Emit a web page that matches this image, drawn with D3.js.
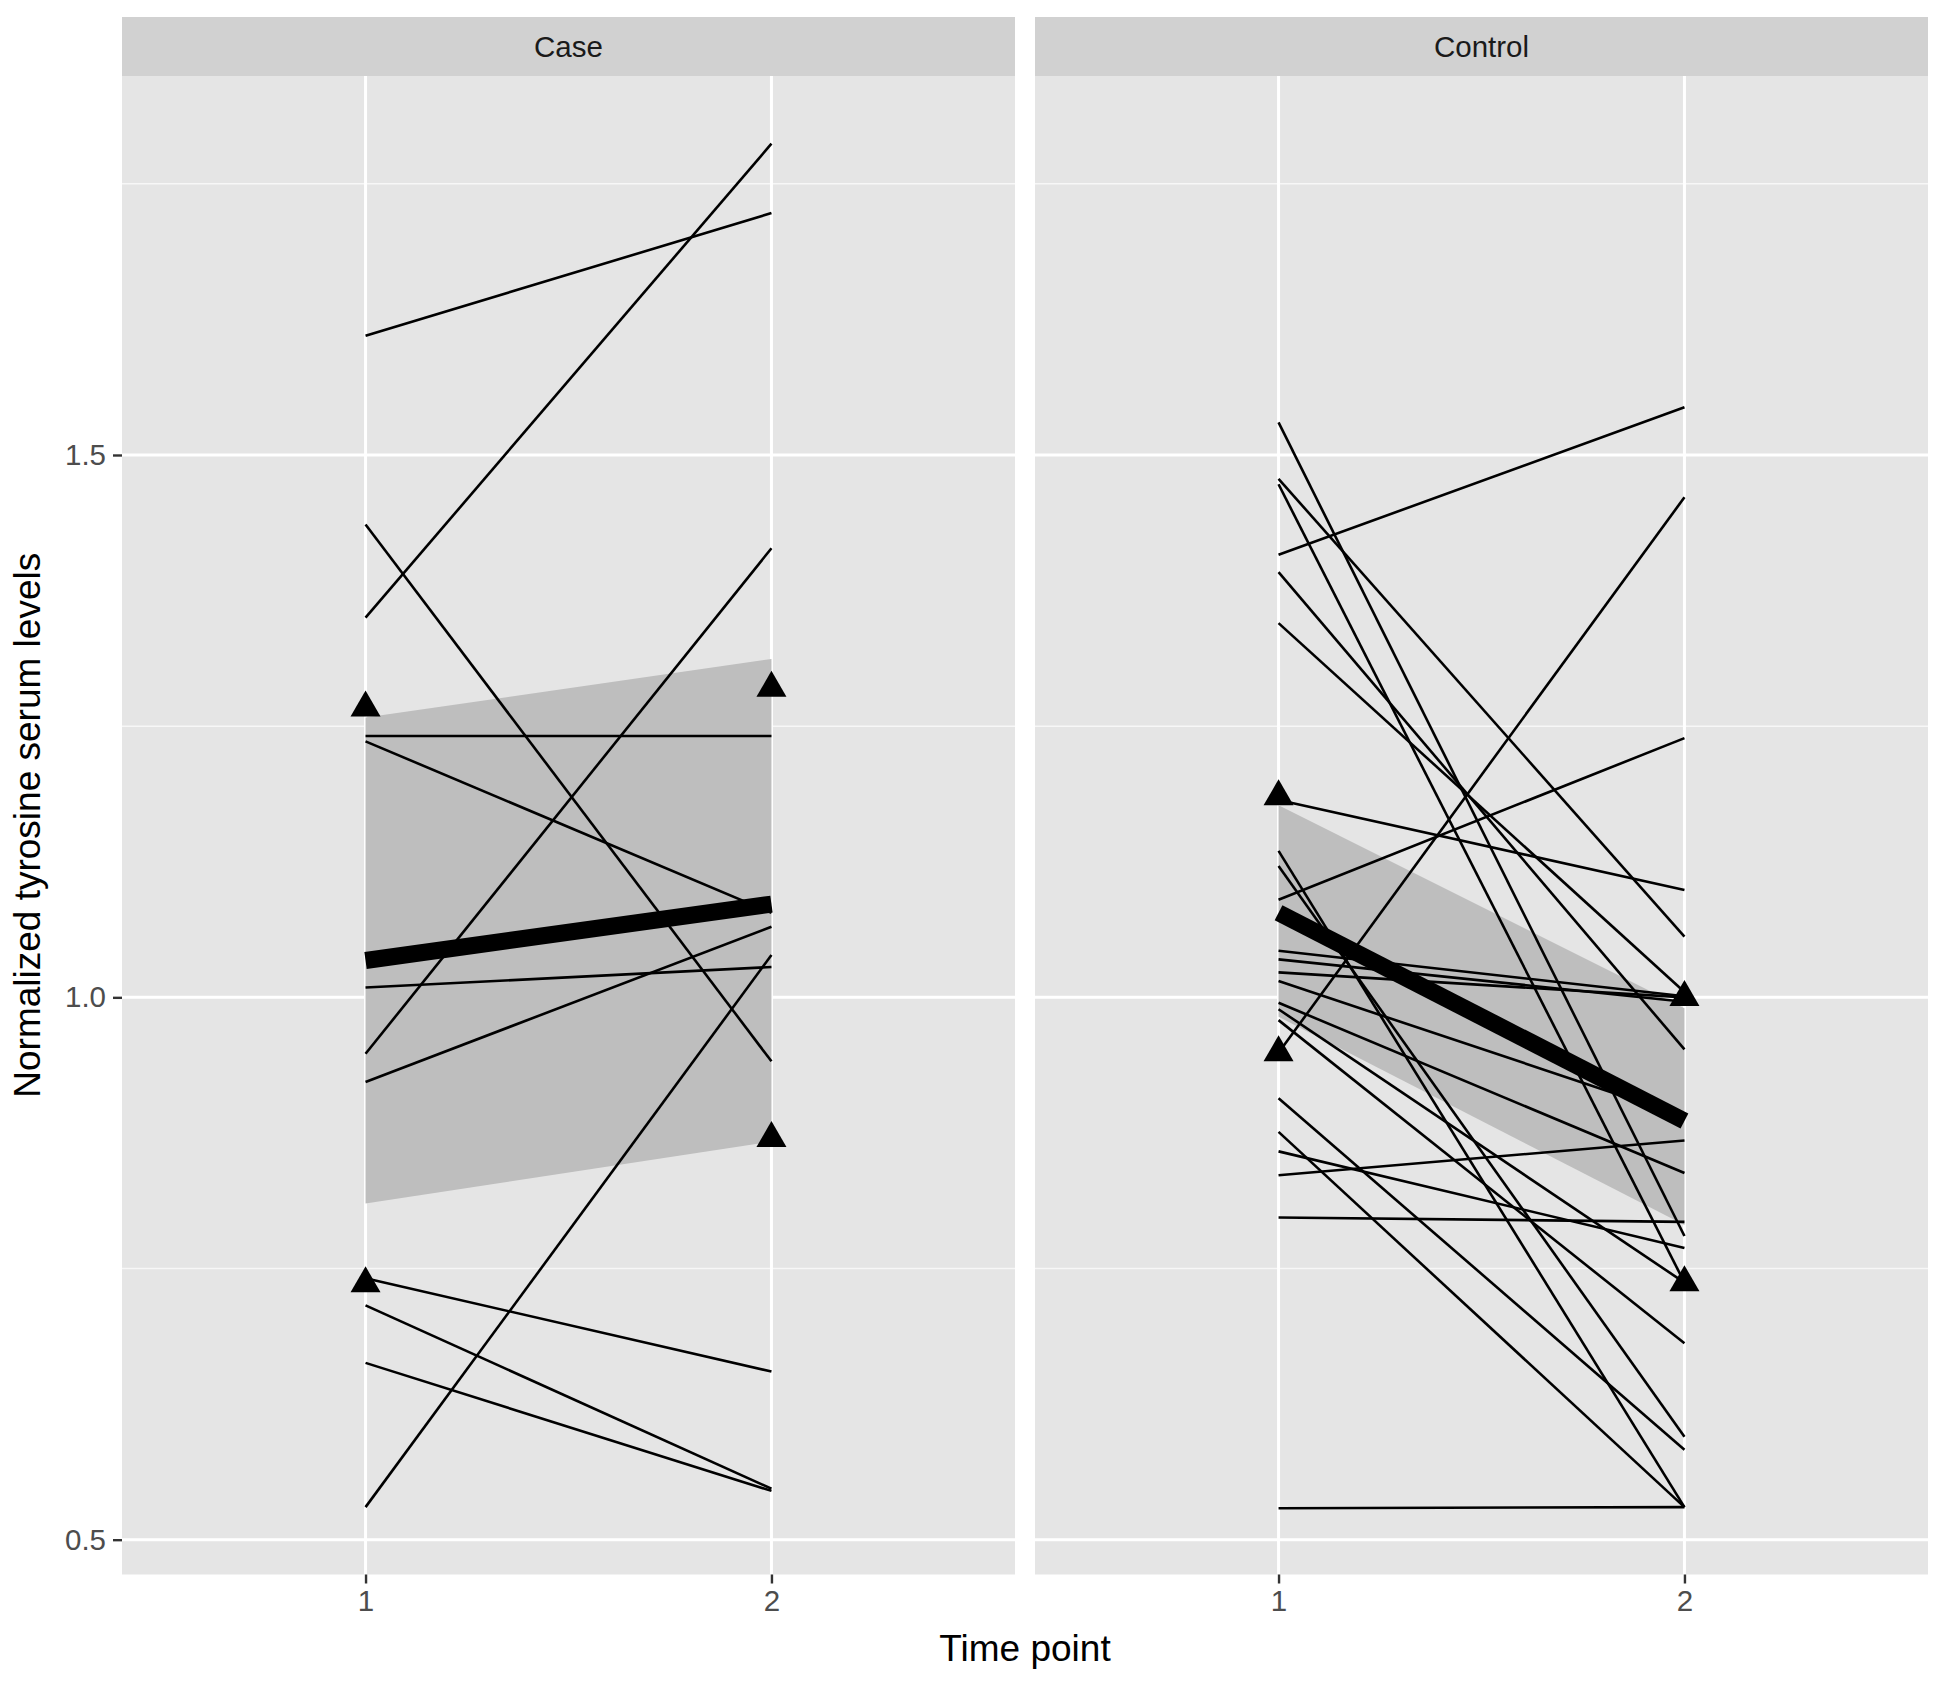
<!DOCTYPE html>
<html>
<head>
<meta charset="utf-8">
<script src="https://cdn.jsdelivr.net/npm/d3@7"></script>
<style>
  body { margin: 0; background: #ffffff; }
  text { font-family: "Liberation Sans", Arial, sans-serif; }
</style>
</head>
<body>
<svg></svg>
<script>
// time points on the x axis
const timePoints = [1, 2];
const panelNames = ["Case", "Control"];

// Case: one subject per index, value at time 1 and time 2
const caseT1 = [1.610, 1.350, 1.436, 1.241, 1.236, 0.948, 0.922, 1.009, 0.530, 0.741, 0.716, 0.663];
const caseT2 = [1.723, 1.787, 0.941, 1.241, 1.078, 1.414, 1.065, 1.028, 1.039, 0.655, 0.547, 0.545];

// Control
const controlT1 = [1.530, 1.478, 1.473, 1.408, 1.392, 1.345, 1.182, 1.135, 1.121, 1.090, 1.043, 1.035,
                   1.023, 1.015, 0.995, 0.989, 0.979, 0.949, 0.907, 0.876, 0.858, 0.836, 0.797, 0.529];
const controlT2 = [0.780, 1.056, 0.737, 1.544, 0.952, 1.005, 1.099, 0.530, 0.595, 1.239, 1.001, 0.996,
                   1.000, 0.890, 0.838, 0.737, 0.681, 1.461, 0.583, 0.530, 0.769, 0.868, 0.793, 0.530];

// group trend (thick line) and shaded band
const caseMean = [1.034, 1.086];
const caseBandLow = [0.810, 0.867];
const caseBandHigh = [1.258, 1.312];
const controlMean = [1.078, 0.886];
const controlBandLow = [0.982, 0.790];
const controlBandHigh = [1.177, 0.990];

// triangle markers
const caseTriUpper = [1.267, 1.285];
const caseTriLower = [0.736, 0.870];
const controlTriUpper = [1.185, 1.000];
const controlTriLower = [0.949, 0.737];

const yMajor = [0.5, 1.0, 1.5];
const yMinor = [0.75, 1.25, 1.75];

function buildPanel(name, t1, t2, mean, low, high, triUp, triLow) {
    return {
        name: name,
        subjects: t1.map((v, i) => [v, t2[i]]),
        mean: mean,
        band: timePoints.map((t, i) => ({t: t, lo: low[i], hi: high[i]})),
        triangles: timePoints.map((t, i) => [t, triUp[i]]).concat(timePoints.map((t, i) => [t, triLow[i]]))
    };
}

const panels = [
    buildPanel(panelNames[0], caseT1, caseT2, caseMean, caseBandLow, caseBandHigh, caseTriUpper, caseTriLower),
    buildPanel(panelNames[1], controlT1, controlT2, controlMean, controlBandLow, controlBandHigh, controlTriUpper, controlTriLower)
];

let width = 1947;
let height = 1681;

let svg = d3.select("svg")
    .attr("width", width)
    .attr("height", height);

let panelTop = 76;
let panelBottom = 1574.5;
let stripTop = 17;
let panelX = [[122, 1015], [1035, 1928]];

let y = d3.scaleLinear()
    .domain([0.4679, 1.8494])
    .range([panelBottom, panelTop]);

// y axis (left of first panel)
let yAxis = svg.append("g")
    .attr("transform", "translate(" + panelX[0][0] + ",0)")
    .call(d3.axisLeft(y).tickValues(yMajor).tickFormat(d3.format(".1f")).tickSize(9).tickPadding(7));
yAxis.select(".domain").remove();
yAxis.selectAll(".tick line").attr("stroke", "#333333").attr("stroke-width", 2.4);
yAxis.selectAll(".tick text")
    .attr("fill", "#4d4d4d")
    .attr("font-size", "29.5px")
    .attr("font-family", "Liberation Sans, Arial, sans-serif");

panels.forEach(function(p, k) {
    let x = d3.scaleLinear()
        .domain([0.4, 2.6])
        .range(panelX[k]);
    let pw = panelX[k][1] - panelX[k][0];

    let g = svg.append("g");

    // strip
    g.append("rect")
        .attr("x", panelX[k][0])
        .attr("y", stripTop)
        .attr("width", pw)
        .attr("height", panelTop - stripTop)
        .attr("fill", "#d1d1d1");
    g.append("text")
        .attr("x", (panelX[k][0] + panelX[k][1]) / 2)
        .attr("y", (stripTop + panelTop) / 2)
        .attr("dy", "0.35em")
        .attr("text-anchor", "middle")
        .attr("font-size", "29.5px")
        .attr("fill", "#1a1a1a")
        .text(p.name);

    // panel background
    g.append("rect")
        .attr("x", panelX[k][0])
        .attr("y", panelTop)
        .attr("width", pw)
        .attr("height", panelBottom - panelTop)
        .attr("fill", "#e5e5e5");

    // grid
    g.selectAll(".minor")
        .data(yMinor)
        .join("line")
        .attr("x1", panelX[k][0])
        .attr("x2", panelX[k][1])
        .attr("y1", d => y(d))
        .attr("y2", d => y(d))
        .attr("stroke", "#f7f7f7")
        .attr("stroke-width", 1.5);
    g.selectAll(".major")
        .data(yMajor)
        .join("line")
        .attr("x1", panelX[k][0])
        .attr("x2", panelX[k][1])
        .attr("y1", d => y(d))
        .attr("y2", d => y(d))
        .attr("stroke", "#ffffff")
        .attr("stroke-width", 3);
    g.selectAll(".vmajor")
        .data(timePoints)
        .join("line")
        .attr("x1", d => x(d))
        .attr("x2", d => x(d))
        .attr("y1", panelTop)
        .attr("y2", panelBottom)
        .attr("stroke", "#ffffff")
        .attr("stroke-width", 3);

    // band
    g.append("path")
        .datum(p.band)
        .attr("d", d3.area().x(d => x(d.t)).y0(d => y(d.lo)).y1(d => y(d.hi)))
        .attr("fill", "#bebebe");

    // subject lines
    let line = d3.line().x((d, i) => x(timePoints[i])).y(d => y(d));
    g.selectAll(".subject")
        .data(p.subjects)
        .join("path")
        .attr("d", line)
        .attr("fill", "none")
        .attr("stroke", "#000000")
        .attr("stroke-width", 2.6);

    // mean line
    g.append("path")
        .datum(p.mean)
        .attr("d", line)
        .attr("fill", "none")
        .attr("stroke", "#000000")
        .attr("stroke-width", 17);

    // triangles
    g.selectAll(".tri")
        .data(p.triangles)
        .join("path")
        .attr("d", d3.symbol().type(d3.symbolTriangle).size(390))
        .attr("transform", d => "translate(" + x(d[0]) + "," + y(d[1]) + ")")
        .attr("fill", "#000000");

    // x axis
    let xAxis = svg.append("g")
        .attr("transform", "translate(0," + panelBottom + ")")
        .call(d3.axisBottom(x).tickValues(timePoints).tickFormat(d3.format("d")).tickSize(9).tickPadding(7));
    xAxis.select(".domain").remove();
    xAxis.selectAll(".tick line").attr("stroke", "#333333").attr("stroke-width", 2.4);
    xAxis.selectAll(".tick text")
        .attr("fill", "#4d4d4d")
        .attr("font-size", "29.5px")
        .attr("font-family", "Liberation Sans, Arial, sans-serif");
});

// axis titles
svg.append("text")
    .attr("x", (panelX[0][0] + panelX[1][1]) / 2)
    .attr("y", 1648)
    .attr("dy", "0.35em")
    .attr("text-anchor", "middle")
    .attr("font-size", "37px")
    .attr("fill", "#000000")
    .text("Time point");

svg.append("text")
    .attr("transform", "translate(27," + (panelTop + panelBottom) / 2 + ") rotate(-90)")
    .attr("dy", "0.35em")
    .attr("text-anchor", "middle")
    .attr("font-size", "37px")
    .attr("fill", "#000000")
    .text("Normalized tyrosine serum levels");
</script>
</body>
</html>
